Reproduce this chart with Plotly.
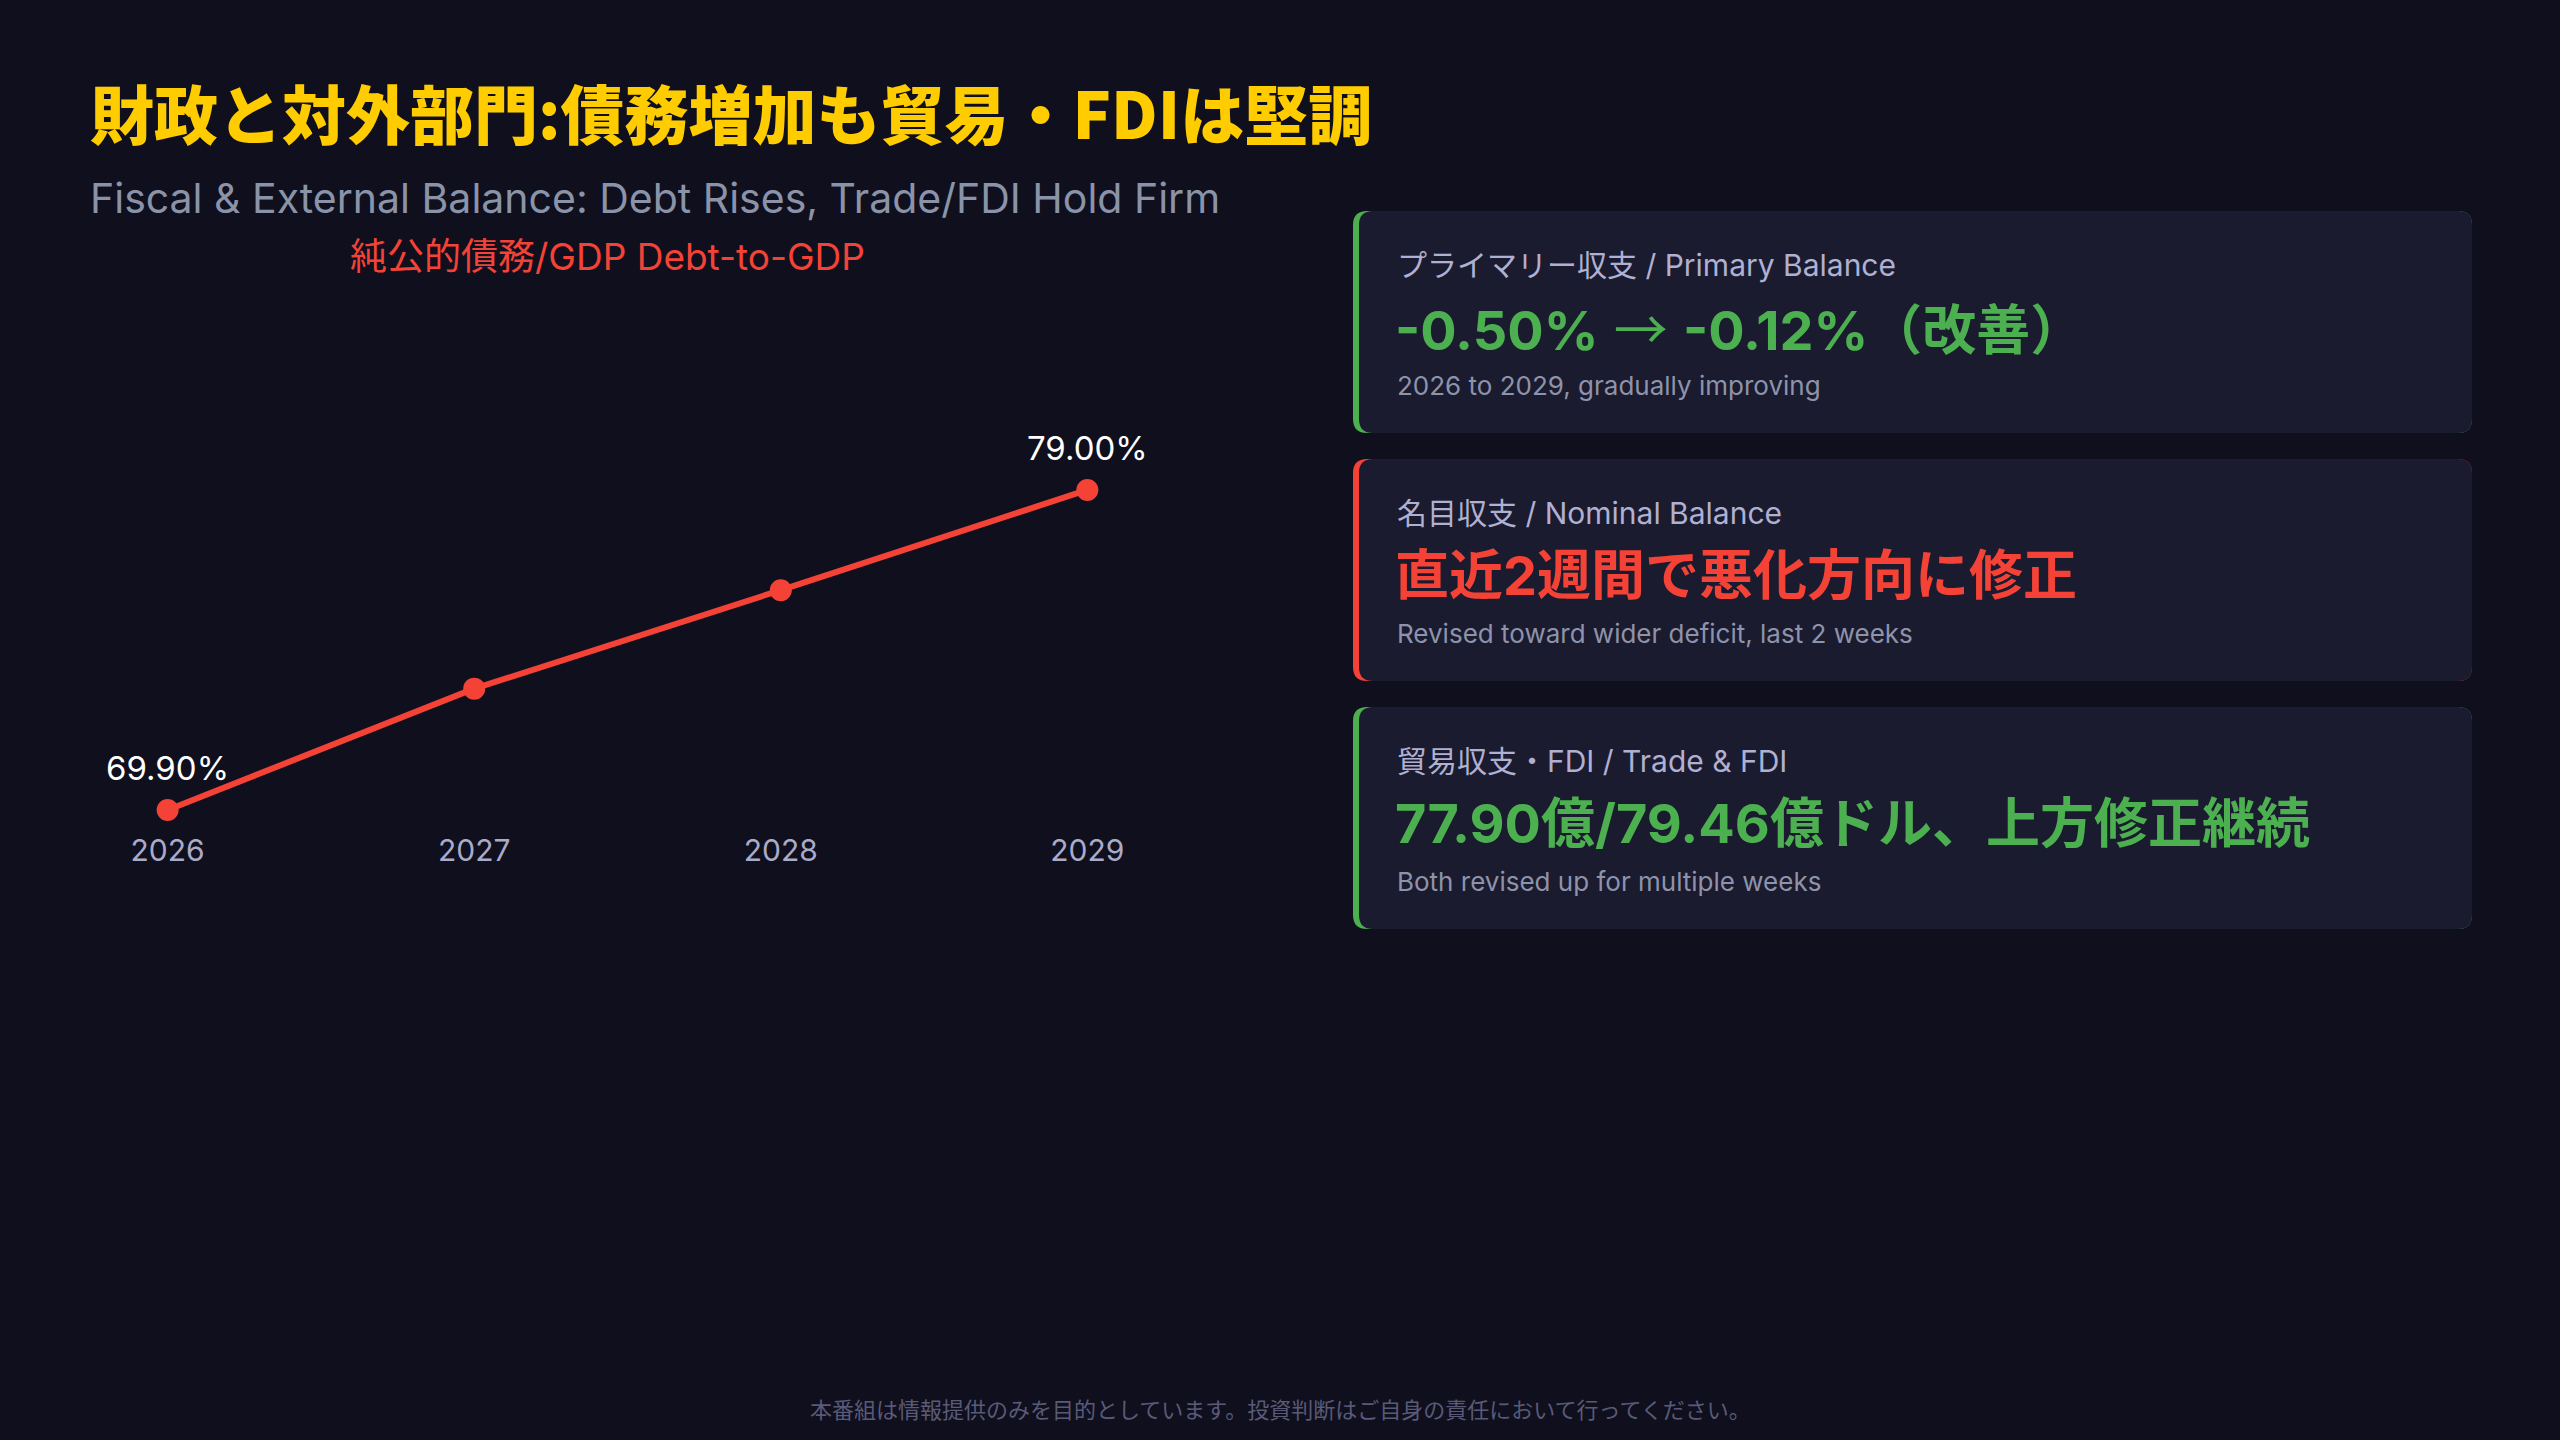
import plotly.graph_objects as go

W, H = 2560, 1440

# chart data
years = ["2026", "2027", "2028", "2029"]
debt_to_gdp = [69.90, 73.35, 76.15, 79.00]
labelled = [0, 3]

# right-hand cards
card_labels = [
    "プライマリー収支 / Primary Balance",
    "名目収支 / Nominal Balance",
    "貿易収支・FDI / Trade & FDI",
]
card_values = [
    "<b>-0.50%</b> <span style='font-family:Noto Sans CJK JP'>→</span> <b>-0.12%（改善）</b>",
    "<b>直近2週間で悪化方向に修正</b>",
    "<b>77.90億/79.46億ドル、上方修正継続</b>",
]
card_notes = [
    "2026 to 2029, gradually improving",
    "Revised toward wider deficit, last 2 weeks",
    "Both revised up for multiple weeks",
]

title_ja = "財政と対外部門:債務増加も貿易・FDIは堅調"
title_en = "Fiscal & External Balance: Debt Rises, Trade/FDI Hold Firm"
chart_title = "純公的債務/GDP Debt-to-GDP"
footer = "本番組は情報提供のみを目的としています。投資判断はご自身の責任において行ってください。"

BG = "#0f0f1e"
CARD_BG = "#1a1b2e"
GREEN = "#4caf50"
RED = "#f44336"
YELLOW = "#ffcc00"
card_accents = [GREEN, RED, GREEN]
FONT = "Inter, Noto Sans CJK JP, sans-serif"
JP_FONT = "Noto Sans CJK JP, Inter, sans-serif"


def px(x):
    return x / W


def py(y):
    return 1 - y / H


def rounded_rect(x0, y0, x1, y1, r):
    # pixel box -> paper path with rounded corners
    rx, ry = r / W, r / H
    a, b, c, d = px(x0), py(y1), px(x1), py(y0)
    return (
        f"M {a + rx},{b} L {c - rx},{b} Q {c},{b} {c},{b + ry} "
        f"L {c},{d - ry} Q {c},{d} {c - rx},{d} L {a + rx},{d} "
        f"Q {a},{d} {a},{d - ry} L {a},{b + ry} Q {a},{b} {a + rx},{b} Z"
    )


def note(x, y, text, size, color, family=FONT, anchor="left", weight="normal"):
    return dict(x=px(x), y=py(y), xref="paper", yref="paper", text=text,
                showarrow=False, xanchor=anchor, yanchor="middle",
                font=dict(family=family, size=size, color=color, weight=weight))


fig = go.Figure()
fig.add_trace(
    go.Scatter(
        x=years,
        y=debt_to_gdp,
        mode="lines+markers",
        line=dict(color=RED, width=6),
        marker=dict(color=RED, size=22),
        hoverinfo="skip",
        showlegend=False,
    )
)

annotations = []
for i in labelled:
    # category axis: annotations take the category index
    annotations.append(
        dict(
            x=i, y=debt_to_gdp[i], xref="x", yref="y",
            text=f"{debt_to_gdp[i]:.2f}%", showarrow=False, yshift=42,
            font=dict(family=FONT, size=33, color="#ffffff"),
        )
    )

annotations += [
    note(88, 111, title_ja, 64, YELLOW, JP_FONT, weight=900),
    note(88, 198, title_en, 41, "#8a93a8"),
    note(607, 256, chart_title, 37, RED, anchor="center"),
    note(1280, 1408, footer, 22, "#5a5a78", JP_FONT, anchor="center"),
]

shapes = []
card_tops = [211, 459, 707]
card_h = 222
for i, top in enumerate(card_tops):
    shapes.append(dict(type="path", xref="paper", yref="paper", line_width=0,
                       fillcolor=card_accents[i], layer="below",
                       path=rounded_rect(1353, top, 2472, top + card_h, 14)))
    shapes.append(dict(type="path", xref="paper", yref="paper", line_width=0,
                       fillcolor=CARD_BG, layer="below",
                       path=rounded_rect(1359, top, 2472, top + card_h, 14)))
    annotations += [
        note(1395, top + 54, card_labels[i], 30, "#b0b0d2"),
        note(1393, top + 116, card_values[i], 54, card_accents[i]),
        note(1395, top + 174, card_notes[i], 26, "#8e93ab"),
    ]

fig.update_layout(
    width=W,
    height=H,
    margin=dict(l=0, r=0, t=0, b=0),
    paper_bgcolor=BG,
    plot_bgcolor=BG,
    showlegend=False,
    annotations=annotations,
    shapes=shapes,
    xaxis=dict(
        type="category", range=[-0.25, 3.25], domain=[px(91), px(1164)],
        showgrid=False, zeroline=False, showline=False, ticks="",
        tickfont=dict(family=FONT, size=30, color="#a9abc9"), fixedrange=True,
    ),
    yaxis=dict(
        visible=False, range=[69.33, 80.42], domain=[py(830), py(440)],
        showgrid=False, zeroline=False, fixedrange=True,
    ),
)

fig.write_html(
    "out.html",
    config={"displayModeBar": False},
    post_script="document.body.style.margin='0';document.body.style.background='" + BG + "';",
)
